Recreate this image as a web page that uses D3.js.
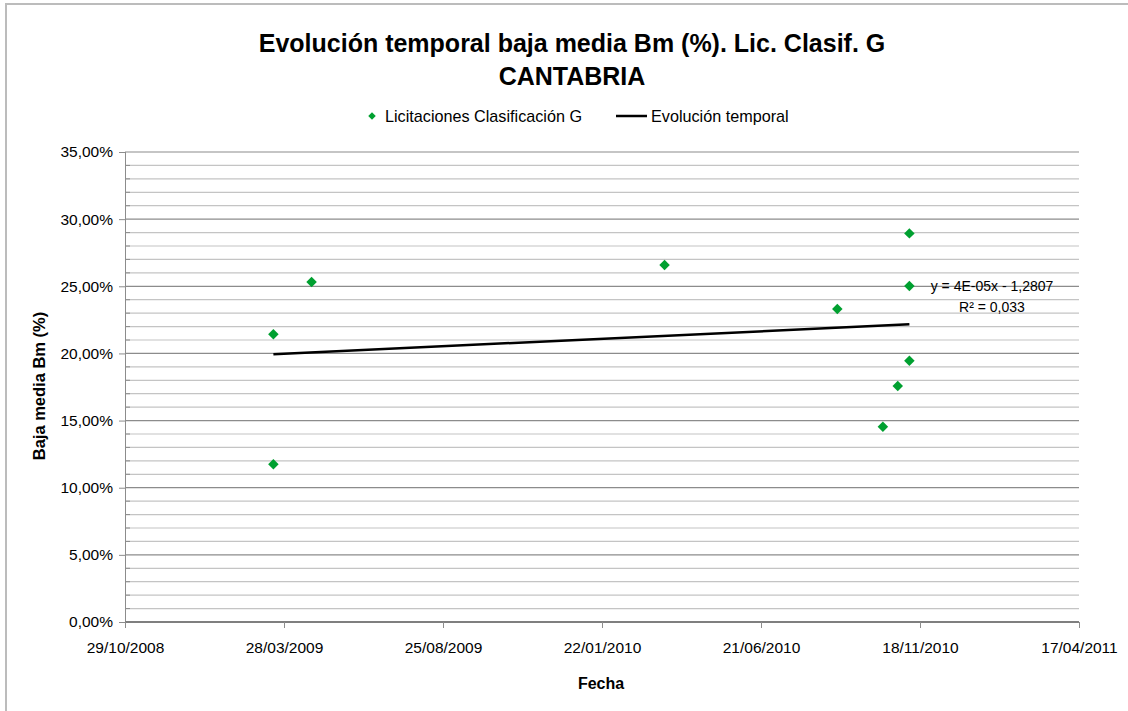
<!DOCTYPE html>
<html>
<head>
<meta charset="utf-8">
<script src="https://cdn.jsdelivr.net/npm/d3@7"></script>
<style>
  body { margin: 0; background: #fff; }
  text { font-family: "Liberation Sans", Arial, sans-serif; fill: #000; }
</style>
</head>
<body>
<svg id="chart" width="1128" height="711"></svg>
<script>
/*
    DATA
*/
var fechas  = ["18/03/2009", "18/03/2009", "23/04/2009", "22/03/2010", "01/09/2010",
               "08/11/2010", "08/11/2010", "08/11/2010", "28/10/2010", "14/10/2010"];
var bajas   = [21.42, 11.74, 25.32, 26.58, 23.31, 28.94, 25.02, 19.46, 17.57, 14.54];

var xTickLabels = ["29/10/2008", "28/03/2009", "25/08/2009", "22/01/2010", "21/06/2010", "18/11/2010", "17/04/2011"];
var yMajor = [0, 5, 10, 15, 20, 25, 30, 35];
var yMinor = d3.range(0, 36, 1);

var titulo1 = "Evolución temporal baja media Bm (%). Lic. Clasif. G";
var titulo2 = "CANTABRIA";
var serieNombre = "Licitaciones Clasificación G";
var tendNombre = "Evolución temporal";
var ecuacion = "y = 4E-05x - 1,2807";
var r2Texto = "R² = 0,033";

/*
    LAYOUT
*/
var margin = {top: 152, right: 49, bottom: 89, left: 125};
var width = 1128, height = 711;
var w = width - margin.left - margin.right;
var h = height - margin.top - margin.bottom;

var parseFecha = d3.timeParse("%d/%m/%Y");
var dataset = fechas.map(function(f, i) { return {fecha: parseFecha(f), baja: bajas[i]}; });
var xTicks = xTickLabels.map(parseFecha);

var x = d3.scaleTime()
    .domain([xTicks[0], xTicks[xTicks.length - 1]])
    .range([0, w]);
var y = d3.scaleLinear()
    .domain([0, 35])
    .range([h, 0]);

var svg = d3.select("#chart");

// outer chart border
svg.append("rect")
    .attr("x", 6).attr("y", 4)
    .attr("width", 1140).attr("height", 720)
    .attr("fill", "none")
    .attr("stroke", "#bcbcbc")
    .attr("stroke-width", 2);

// titles
svg.append("text")
    .attr("x", 572).attr("y", 52)
    .attr("text-anchor", "middle")
    .style("font-size", "25px").style("font-weight", "bold")
    .text(titulo1);
svg.append("text")
    .attr("x", 572).attr("y", 85)
    .attr("text-anchor", "middle")
    .style("font-size", "25px").style("font-weight", "bold")
    .text(titulo2);

// legend
var legend = svg.append("g");
legend.append("path")
    .attr("d", d3.symbol().type(d3.symbolSquare).size(28)())
    .attr("transform", "translate(372,116) rotate(45)")
    .attr("fill", "#00a030");
legend.append("text")
    .attr("x", 385).attr("y", 122)
    .style("font-size", "16.2px")
    .text(serieNombre);
legend.append("line")
    .attr("x1", 616).attr("x2", 647)
    .attr("y1", 116).attr("y2", 116)
    .attr("stroke", "#000").attr("stroke-width", 2.5);
legend.append("text")
    .attr("x", 651).attr("y", 122)
    .style("font-size", "16.2px")
    .text(tendNombre);

var chart = svg.append("g")
    .attr("transform", "translate(" + margin.left + "," + margin.top + ")");

// gridlines: minor first then major
chart.selectAll("line.minor")
    .data(yMinor.filter(function(d) { return d % 5 !== 0; }))
  .enter().append("line")
    .attr("class", "minor")
    .attr("x1", 0).attr("x2", w)
    .attr("y1", function(d) { return y(d); })
    .attr("y2", function(d) { return y(d); })
    .attr("stroke", "#c4c4c4").attr("stroke-width", 1.2);
chart.selectAll("line.major")
    .data(yMajor.filter(function(d) { return d > 0; }))
  .enter().append("line")
    .attr("class", "major")
    .attr("x1", 0).attr("x2", w)
    .attr("y1", function(d) { return y(d); })
    .attr("y2", function(d) { return y(d); })
    .attr("stroke", "#8c8c8c").attr("stroke-width", 1.2);

// minor ticks on the y axis (inside)
chart.selectAll("line.yminor")
    .data(yMinor.filter(function(d) { return d % 5 !== 0; }))
  .enter().append("line")
    .attr("x1", 0).attr("x2", 5)
    .attr("y1", function(d) { return y(d); })
    .attr("y2", function(d) { return y(d); })
    .attr("stroke", "#8c8c8c");

// y axis
var yAxis = chart.append("g")
    .call(d3.axisLeft(y)
        .tickValues(yMajor)
        .tickSize(6)
        .tickPadding(6)
        .tickFormat(function(d) { return d3.format(".2f")(d).replace(".", ",") + "%"; }));
yAxis.select(".domain").attr("stroke", "#8c8c8c").attr("d", "M0.5,0V" + h);
yAxis.selectAll(".tick line").attr("stroke", "#8c8c8c");
yAxis.selectAll(".tick text")
    .style("font-size", "15.5px")
    .style("font-family", "'Liberation Sans', Arial, sans-serif")
    .attr("fill", "#000");

// x axis
var xAxis = chart.append("g")
    .attr("transform", "translate(0," + h + ")")
    .call(d3.axisBottom(x)
        .tickValues(xTicks)
        .tickSize(6)
        .tickPadding(14)
        .tickFormat(function(d, i) { return xTickLabels[i]; }));
xAxis.select(".domain").attr("stroke", "#7f7f7f").attr("stroke-width", 2).attr("d", "M0,0H" + w);
xAxis.selectAll(".tick line").attr("stroke", "#8c8c8c");
xAxis.selectAll(".tick text")
    .style("font-size", "15.5px")
    .style("font-family", "'Liberation Sans', Arial, sans-serif")
    .attr("fill", "#000");

// axis titles
svg.append("text")
    .attr("x", 601).attr("y", 689)
    .attr("text-anchor", "middle")
    .style("font-size", "16px").style("font-weight", "bold")
    .text("Fecha");
svg.append("text")
    .attr("transform", "translate(45,386) rotate(-90)")
    .attr("text-anchor", "middle")
    .style("font-size", "16.5px").style("font-weight", "bold")
    .text("Baja media Bm (%)");

// linear trend (least squares on the points)
var xs = dataset.map(function(d) { return +d.fecha; });
var ys = dataset.map(function(d) { return d.baja; });
var mx = d3.mean(xs), my = d3.mean(ys);
var sxy = d3.sum(xs, function(v, i) { return (v - mx) * (ys[i] - my); });
var sxx = d3.sum(xs, function(v) { return (v - mx) * (v - mx); });
var slope = sxy / sxx;
var x0 = d3.min(xs), x1 = d3.max(xs);
var trend = [
  {fecha: new Date(x0), baja: my + slope * (x0 - mx)},
  {fecha: new Date(x1), baja: my + slope * (x1 - mx)}
];

chart.append("path")
    .datum(trend)
    .attr("d", d3.line()
        .x(function(d) { return x(d.fecha); })
        .y(function(d) { return y(d.baja); }))
    .attr("fill", "none")
    .attr("stroke", "#000")
    .attr("stroke-width", 2.5);

// points
chart.selectAll("path.punto")
    .data(dataset)
  .enter().append("path")
    .attr("class", "punto")
    .attr("d", d3.symbol().type(d3.symbolSquare).size(55)())
    .attr("transform", function(d) { return "translate(" + x(d.fecha) + "," + y(d.baja) + ") rotate(45)"; })
    .attr("fill", "#00a030");

// trend equation label
svg.append("text")
    .attr("x", 992).attr("y", 291)
    .attr("text-anchor", "middle")
    .style("font-size", "14px")
    .text(ecuacion);
svg.append("text")
    .attr("x", 992).attr("y", 312)
    .attr("text-anchor", "middle")
    .style("font-size", "14px")
    .text(r2Texto);
</script>
</body>
</html>
